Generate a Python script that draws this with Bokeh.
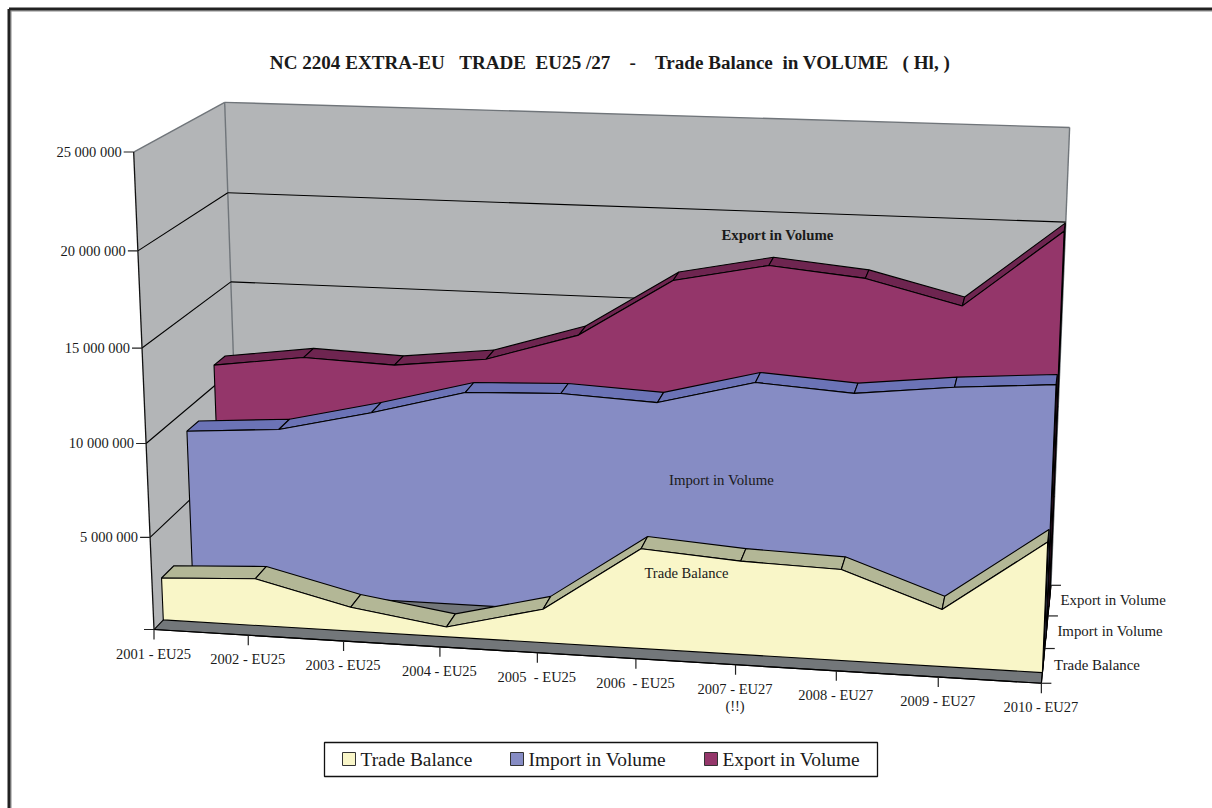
import numpy as np
from bokeh.plotting import figure
from bokeh.embed import file_html
from bokeh.resources import INLINE
from bokeh.core.properties import value

# ---------- data (millions of hl) ----------
categories = ["2001 - EU25", "2002 - EU25", "2003 - EU25", "2004 - EU25", "2005  - EU25",
              "2006  - EU25", "2007 - EU27\n(!!)", "2008 - EU27", "2009 - EU27", "2010 - EU27"]
trade_balance = [2.30, 2.55, 1.30, 0.54, 1.80, 5.32, 4.95, 4.80, 3.00, 6.80]
import_volume = [8.82, 9.16, 10.32, 11.65, 11.83, 11.58, 12.88, 12.54, 13.09, 13.46]
export_volume = [11.15, 11.80, 11.60, 12.15, 13.70, 16.87, 17.87, 17.38, 16.12, 20.25]
value_ticks = [0, 5, 10, 15, 20, 25]
value_labels = ["", "5 000 000", "10 000 000", "15 000 000", "20 000 000", "25 000 000"]
series_names = ["Trade Balance", "Import in Volume", "Export in Volume"]
series_values = [trade_balance, import_volume, export_volume]
face_colors = ["#F9F6C8", "#868CC4", "#94366A"]
top_colors = ["#B3B796", "#6B73B6", "#6E2550"]
WALL, FLOOR = "#B3B5B7", "#73777A"
FONT = value("Liberation Serif")
NB = "\u00a0"
title_text = ("NC 2204 EXTRA-EU" + NB * 3 + "TRADE" + NB * 2 + "EU25 /27" + NB * 4 + "-" + NB * 4 +
              "Trade Balance" + NB * 2 + "in VOLUME" + NB * 3 + "( Hl, )")

# ---------- camera: 3-D chart box (u, depth, w) -> page pixels, fitted on the box's anchors ----------
n = len(categories)
tick_x = [153.5, 247.6, 343, 439.5, 536.5, 635, 734.5, 838, 937.7, 1040.7]
anchors = [(i / 9, 0, 0, x, 629 + (x - 153.5) * 0.0605) for i, x in enumerate(tick_x)]
anchors += [(0, 0, k / 5, x, y) for k, (x, y) in enumerate(
    [(153.5, 629), (149.5, 536.7), (145.7, 443.3), (141.7, 347.3), (137, 250.7), (133.3, 151.7)])]
anchors += [(0, 1, 1 - k / 5, x, y) for k, (x, y) in enumerate([(224, 101.7), (227.3, 192.3), (230.7, 281.3)])]
anchors += [(1, 1, 1 - k / 5, x, y) for k, (x, y) in enumerate([(1069.3, 126.7), (1065, 221.7)])]
anchors += [(1, k / 3, 0, x, y) for k, (x, y) in enumerate([(1040.7, 682.7), (1044, 648), (1047, 615.7), (1050.7, 585)])]
rows = []
for u, d, w, x, y in anchors:
    rows.append([u, d, w, 1, 0, 0, 0, 0, -x * u, -x * d, -x * w, -x])
    rows.append([0, 0, 0, 0, u, d, w, 1, -y * u, -y * d, -y * w, -y])
CAM = np.linalg.svd(np.array(rows, float))[2][-1].reshape(3, 4)


def proj(i, d, v):
    q = CAM @ np.array([i / 9, d, v / 25, 1.0])
    return q[0] / q[2], q[1] / q[2]


def poly(p, pts, fill, line="black", lw=1.1):
    xs, ys = zip(*pts)
    p.patch(list(xs), list(ys), fill_color=fill, line_color=line, line_width=lw)


def seg(p, a, b, color="black", lw=1.1):
    p.line([a[0], b[0]], [a[1], b[1]], line_color=color, line_width=lw)


def label(p, x, y, text, size="14.5px", align="center", style="normal", color="#1a1a1a"):
    p.text([x], [y], text=[text], text_font=FONT, text_font_size=size, text_align=align,
           text_baseline="middle", text_font_style=style, text_color=color)


p = figure(width=1212, height=808, x_range=(0, 1212), y_range=(808, 0), output_backend="svg",
           toolbar_location=None, min_border=0, background_fill_color="white", outline_line_color=None)
p.axis.visible = False
p.grid.visible = False

# page frame (top and left only)
seg(p, (10.5, 808), (10.5, 10.5), "#8A8A8A", 1)
seg(p, (10.5, 10.5), (1212, 10.5), "#8A8A8A", 1)
seg(p, (8.5, 808), (8.5, 8.5), "#222222", 3)
seg(p, (8.5, 8.5), (1212, 8.5), "#222222", 3)

# walls and floor
poly(p, [proj(0, 0, 0), proj(0, 1, 0), proj(0, 1, 25), proj(0, 0, 25)], WALL, None)
poly(p, [proj(0, 1, 0), proj(9, 1, 0), proj(9, 1, 25), proj(0, 1, 25)], WALL, None)
seg(p, proj(0, 0, 25), proj(0, 1, 25), "#70757A", 1.4)
seg(p, proj(0, 1, 25), proj(9, 1, 25), "#70757A", 1.4)
seg(p, proj(9, 1, 25), proj(9, 1, 0), "#70757A", 1.4)
seg(p, proj(0, 1, 25), proj(0, 1, 0), "#70757A", 1.4)
poly(p, [proj(0, 0, 0), proj(9, 0, 0), proj(9, 1, 0), proj(0, 1, 0)], FLOOR, "black")
for t in value_ticks[1:-1]:
    seg(p, proj(0, 0, t), proj(0, 1, t))
    seg(p, proj(0, 1, t), proj(9, 1, t))
seg(p, proj(0, 0, 0), proj(0, 0, 25), "#111111", 1.3)

# value axis
for t, lab in zip(value_ticks, value_labels):
    x, y = proj(0, 0, t)
    seg(p, (x - 10, y), (x, y), "#222222", 1.2)
    if lab:
        label(p, x - 12, y, lab, align="right")

# category axis
seg(p, proj(0, 0, 0), proj(9, 0, 0), "black", 1.2)
for i, c in enumerate(categories):
    x, y = proj(i, 0, 0)
    seg(p, (x, y), (x, y + 10), "#222222", 1.2)
    for j, part in enumerate(c.split("\n")):
        label(p, x - 0.5, y + 24 + 17 * j, part.replace("  ", " " + NB))

# depth axis
seg(p, proj(9, 0, 0), proj(9, 1, 0), "black", 1.2)
for k in range(4):
    x, y = proj(9, k / 3, 0)
    seg(p, (x, y), (x + 10, y), "#222222", 1.2)
for k, name in enumerate(series_names):
    x, y = proj(9, (k + 0.5) / 3, 0)
    label(p, x + 11, y - 0.5, name, size="14.9px", align="left")

# series, back to front
for k in (2, 1, 0):
    front, back = k / 3 + 0.10, k / 3 + 0.235
    vals = series_values[k]
    poly(p, [proj(9, front, 0), proj(9, back, 0), proj(9, back, vals[9]), proj(9, front, vals[9])], "#301020", "black")
    for i in range(n - 1):
        poly(p, [proj(i, front, vals[i]), proj(i + 1, front, vals[i + 1]),
                 proj(i + 1, back, vals[i + 1]), proj(i, back, vals[i])], top_colors[k])
    outline = [proj(0, front, 0)] + [proj(i, front, v) for i, v in enumerate(vals)] + [proj(9, front, 0)]
    poly(p, outline, face_colors[k])

# data labels
label(p, 777, 234.5, "Export in Volume", size="14.8px", style="bold")
label(p, 721, 479.5, "Import in Volume", size="14.8px")
label(p, 686, 572.5, "Trade Balance", size="14.6px")

# title
label(p, 609.5, 62, title_text, size="19.1px", style="bold")

# legend
p.quad(left=[324], right=[877], top=[742], bottom=[776], fill_color="white", line_color="#111111", line_width=1.3)
leg_x = [342, 510, 704]
for x0, name, col in zip(leg_x, series_names, face_colors):
    p.quad(left=[x0], right=[x0 + 13], top=[752], bottom=[765], fill_color=col, line_color="#333333", line_width=1)
    label(p, x0 + 18, 759, name, size="19.4px", align="left")

open("out.html", "w").write(file_html(p, INLINE))
